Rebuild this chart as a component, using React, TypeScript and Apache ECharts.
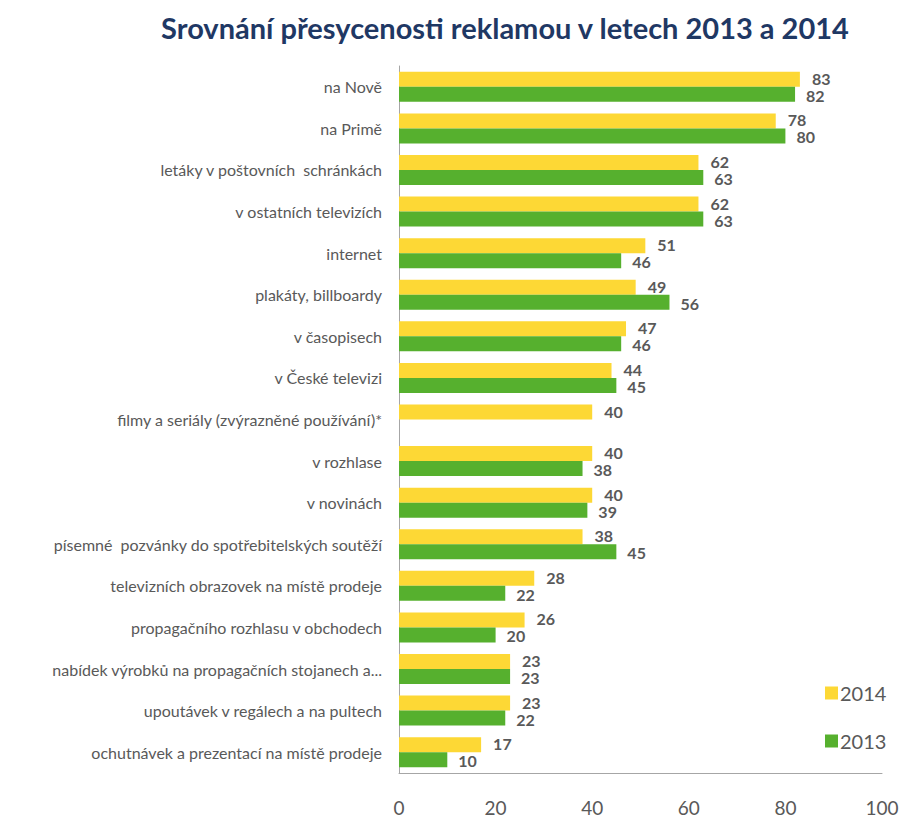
import React, { useEffect, useRef } from "react";
import * as echarts from "echarts";

const categories = [
  "na Nově",
  "na Primě",
  "letáky v poštovních  schránkách",
  "v ostatních televizích",
  "internet",
  "plakáty, billboardy",
  "v časopisech",
  "v České televizi",
  "filmy a seriály (zvýrazněné používání)*",
  "v rozhlase",
  "v novinách",
  "písemné  pozvánky do spotřebitelských soutěží",
  "televizních obrazovek na místě prodeje",
  "propagačního rozhlasu v obchodech",
  "nabídek výrobků na propagačních stojanech a...",
  "upoutávek v regálech a na pultech",
  "ochutnávek a prezentací na místě prodeje",
];
const values2014 = [83, 78, 62, 62, 51, 49, 47, 44, 40, 40, 40, 38, 28, 26, 23, 23, 17];
const values2013: (number | null)[] = [82, 80, 63, 63, 46, 56, 46, 45, null, 38, 39, 45, 22, 20, 23, 22, 10];
const xTicks = [0, 20, 40, 60, 80, 100];

const FONT = "Lato, 'Open Sans', sans-serif";
const GRAY = "#595959";

export default function App() {
  const ref = useRef<HTMLDivElement>(null);
  useEffect(() => {
    if (!ref.current) return;
    const chart = echarts.init(ref.current, null, { renderer: "svg" });
    chart.setOption({
      animation: false,
      textStyle: { fontFamily: FONT },
      title: {
        text: "Srovnání přesycenosti reklamou v letech 2013 a 2014",
        left: 497,
        textAlign: "center",
        top: 3,
        padding: 0,
        textStyle: { fontFamily: FONT, fontWeight: "bold", fontSize: 29, lineHeight: 32, color: "#1F3864" },
      },
      legend: {
        orient: "vertical",
        left: 812,
        top: 670,
        itemWidth: 13,
        itemHeight: 13,
        itemGap: 28,
        icon: "rect",
        data: ["2014", "2013"],
        textStyle: { fontFamily: FONT, fontSize: 20, color: GRAY, padding: [0, 0, 0, -3] },
      },
      grid: { left: 391, right: 26, top: 58, bottom: 49, containLabel: false },
      xAxis: {
        type: "value",
        min: xTicks[0],
        max: xTicks[xTicks.length - 1],
        interval: 20,
        splitLine: { show: false },
        axisLine: { show: true, lineStyle: { color: "#A6A6A6", width: 1 } },
        axisTick: { show: false },
        axisLabel: { fontFamily: FONT, fontSize: 19, color: GRAY, margin: 25 },
      },
      yAxis: {
        type: "category",
        inverse: true,
        data: categories,
        axisLine: { show: true, lineStyle: { color: "#A6A6A6", width: 1 } },
        axisTick: { show: false },
        axisLabel: { fontFamily: FONT, fontSize: 16, color: GRAY, margin: 17 },
      },
      series: [
        {
          name: "2014",
          type: "bar",
          data: values2014,
          barWidth: 15,
          barGap: "0%",
          itemStyle: { color: "#FDD835" },
          label: {
            show: true,
            position: "right",
            distance: 12,
            offset: [0, -1],
            fontFamily: FONT,
            fontWeight: "bold",
            fontSize: 16,
            color: GRAY,
          },
        },
        {
          name: "2013",
          type: "bar",
          data: values2013,
          barWidth: 15,
          barGap: "0%",
          itemStyle: { color: "#56B02E" },
          label: {
            show: true,
            position: "right",
            distance: 11,
            offset: [0, 1],
            fontFamily: FONT,
            fontWeight: "bold",
            fontSize: 16,
            color: GRAY,
          },
        },
      ],
    });
    return () => chart.dispose();
  }, []);
  return <div ref={ref} style={{ width: 900, height: 814 }} />;
}
